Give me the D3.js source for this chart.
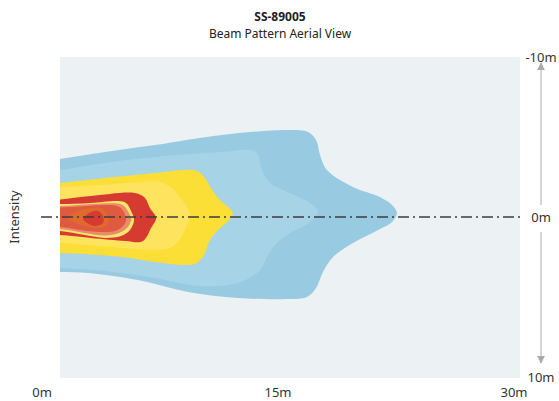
<!DOCTYPE html>
<html>
<head>
<meta charset="utf-8">
<script src="https://cdn.jsdelivr.net/npm/d3@7"></script>
<style>
  html, body { margin: 0; padding: 0; background: #ffffff; }
  text { font-family: "Noto Sans", "Open Sans", sans-serif; fill: #333; }
</style>
</head>
<body>
<svg id="chart" width="559" height="401"></svg>
<script>
// ---- data (metres: x = distance, y = lateral offset, negative = up) ----
const chartTitle = "SS-89005";
const chartSubtitle = "Beam Pattern Aerial View";
const yAxisTitle = "Intensity";
const xTicks = [0, 15, 30];
const yTicks = [-10, 0, 10];

const band1 = [[0,-3.5],[1.14,-3.63],[4.0,-4.06],[7.18,-4.5],[11.44,-5.13],[15.64,-5.44],[16.91,-5.31],[17.42,-4.81],[17.67,-3.88],[18.11,-2.94],[19.77,-1.88],[21.48,-1.25],[22.31,-0.69],[22.56,-0.25],[22.25,0.31],[21.48,0.75],[19.77,1.63],[18.5,2.5],[17.86,3.44],[17.42,4.44],[16.84,5.0],[15.64,5.13],[12.46,5.06],[9.28,4.69],[6.10,3.94],[2.92,3.5],[1.14,3.44],[0,3.44]];
const band2 = [[0,-2.88],[1.14,-2.94],[4.0,-3.38],[7.18,-3.75],[11.44,-4.06],[13.22,-4.19],[13.67,-4.0],[13.98,-2.94],[14.49,-2.13],[15.32,-1.69],[17.03,-0.88],[17.54,-0.38],[17.03,0.31],[15.76,1.0],[14.81,1.75],[14.30,2.5],[13.86,3.31],[12.46,4.13],[10.04,4.31],[7.18,3.81],[4.0,3.38],[1.14,3.19],[0,3.19]];
const band3 = [[0,-2.06],[1.14,-2.13],[4.0,-2.44],[7.18,-2.75],[8.90,-2.94],[9.85,-2.88],[10.36,-2.44],[10.81,-1.69],[11.31,-1.06],[11.89,-0.56],[12.14,-0.25],[11.82,0.25],[11.19,0.81],[10.68,1.44],[10.30,2.38],[9.85,2.88],[9.28,3.0],[7.18,2.81],[5.08,2.5],[1.14,2.25],[0,2.25]];
const band4 = [[0,-1.88],[1.14,-1.88],[3.69,-2.0],[6.23,-2.19],[7.5,-2.19],[8.26,-1.81],[8.77,-1.25],[9.22,-0.63],[9.41,-0.13],[9.22,0.5],[8.83,1.31],[8.14,1.94],[6.86,2.06],[5.15,1.94],[1.14,1.63],[0,1.63]];
const band5 = [[0,-1.1],[1.14,-1.1],[3.11,-1.31],[5.91,-1.5],[6.55,-1.19],[6.86,-0.56],[7.25,0.06],[6.93,0.69],[6.61,1.31],[6.29,1.56],[5.28,1.5],[3.11,1.31],[1.14,1.13],[0,1.13]];
const band6 = [[0,-0.81],[1.14,-0.81],[3.11,-0.88],[4.83,-1.0],[5.34,-0.88],[5.66,-0.38],[5.85,0.19],[5.59,0.81],[5.02,1.19],[4.0,1.31],[2.73,1.13],[1.14,0.88],[0,0.88]];
const band7 = [[0,-0.69],[1.14,-0.69],[4.83,-0.84],[5.21,-0.69],[5.53,-0.25],[5.66,0.19],[5.40,0.69],[4.89,1.0],[4.0,1.16],[2.73,1.0],[1.14,0.75],[0,0.75]];
const band8 = [[0,-0.59],[1.14,-0.59],[4.64,-0.72],[5.02,-0.56],[5.28,-0.13],[5.34,0.25],[5.08,0.63],[4.64,0.88],[3.69,0.94],[2.42,0.81],[1.14,0.63],[0,0.63]];
const band9 = [[1.65,0.06],[2.29,-0.38],[3.11,-0.56],[3.75,-0.56],[4.07,-0.25],[4.26,0.19],[4.07,0.56],[3.56,0.69],[2.80,0.56],[2.16,0.38]];
const band10 = [[2.61,0.13],[3.11,-0.31],[3.56,-0.38],[3.88,-0.06],[3.88,0.38],[3.43,0.56],[3.11,0.5]];

// ---- styles ----
const bandColors = ["#98cbe2", "#a7d3e7", "#fbde36", "#fde35e", "#d63b31", "#fde46c", "#e98c6b", "#df5a3f", "#e0692e", "#d63b31"];
const bands = [band1, band2, band3, band4, band5, band6, band7, band8, band9, band10];

const svg = d3.select("#chart");
const plot = { left: 60, right: 520, top: 57, bottom: 378 };

const x = d3.scaleLinear().domain([0, 30]).range([42, 514]);
const y = d3.scaleLinear().domain([-10, 10]).range([57, 377]);

// titles
svg.append("text").attr("x", 280).attr("y", 21).attr("text-anchor", "middle")
  .style("font-size", "12px").style("font-weight", "bold").style("fill", "#222").text(chartTitle);
svg.append("text").attr("x", 280).attr("y", 38).attr("text-anchor", "middle")
  .style("font-size", "12px").style("fill", "#222").text(chartSubtitle);

// plot background
svg.append("rect").attr("x", plot.left).attr("y", plot.top)
  .attr("width", plot.right - plot.left).attr("height", plot.bottom - plot.top)
  .attr("fill", "#ecf1f4");

svg.append("clipPath").attr("id", "clip").append("rect")
  .attr("x", plot.left).attr("y", plot.top)
  .attr("width", plot.right - plot.left).attr("height", plot.bottom - plot.top);

const line = d3.line().x(d => x(d[0])).y(d => y(d[1])).curve(d3.curveCatmullRomClosed.alpha(0.5));

svg.append("g").attr("clip-path", "url(#clip)")
  .selectAll("path").data(bands).join("path")
  .attr("d", d => line(d))
  .attr("fill", (d, i) => bandColors[i]);

// centre dash-dot line
svg.append("line").attr("x1", 41).attr("x2", 521).attr("y1", y(0)).attr("y2", y(0))
  .attr("stroke", "#3c3c3c").attr("stroke-width", 1.5).attr("stroke-dasharray", "11,4,2,4");

// x tick labels
svg.append("g").selectAll("text").data(xTicks).join("text")
  .attr("x", d => x(d)).attr("y", 397).attr("text-anchor", "middle")
  .style("font-size", "13px").text(d => d + "m");

// right scale labels
const rx = 541;
svg.append("g").selectAll("text").data(yTicks).join("text")
  .attr("x", rx).attr("y", d => y(d) + 5).attr("text-anchor", "middle")
  .style("font-size", "13px").text(d => d + "m");

// arrows
const defs = svg.append("defs");
defs.append("marker").attr("id", "arrow").attr("viewBox", "0 0 10 10")
  .attr("refX", 9).attr("refY", 5).attr("markerWidth", 8).attr("markerHeight", 9)
  .attr("markerUnits", "userSpaceOnUse").attr("orient", "auto")
  .append("path").attr("d", "M0,0L10,5L0,10Z").attr("fill", "#aaaaaa");
svg.append("line").attr("x1", rx).attr("x2", rx).attr("y1", y(0) - 12).attr("y2", y(-10) + 6)
  .attr("stroke", "#aaaaaa").attr("stroke-width", 1).attr("marker-end", "url(#arrow)");
svg.append("line").attr("x1", rx).attr("x2", rx).attr("y1", y(0) + 15).attr("y2", y(10) - 14)
  .attr("stroke", "#aaaaaa").attr("stroke-width", 1).attr("marker-end", "url(#arrow)");

// y title
svg.append("text").attr("transform", `translate(19,${y(0)}) rotate(-90)`)
  .attr("text-anchor", "middle").style("font-size", "13px").text(yAxisTitle);
</script>
</body>
</html>
